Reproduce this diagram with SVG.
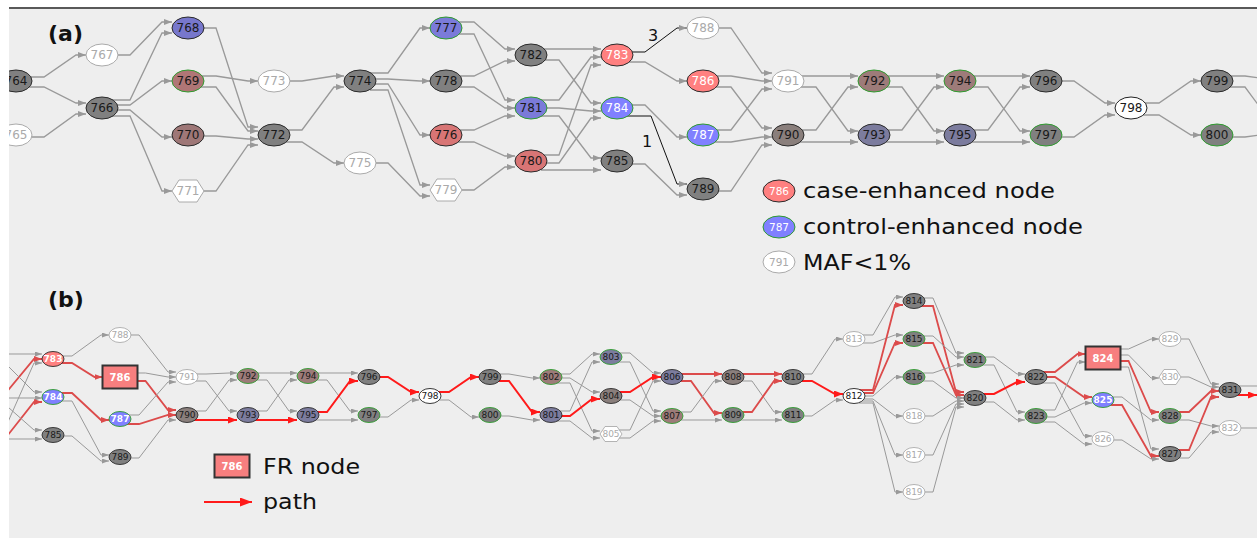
<svg xmlns="http://www.w3.org/2000/svg" width="1257" height="538" viewBox="0 0 1257 538">
<defs>
<clipPath id="clip"><rect x="9" y="9" width="1248" height="529"/></clipPath>
<marker id="ma" markerUnits="userSpaceOnUse" markerWidth="8" markerHeight="6" refX="8" refY="3" orient="auto"><path d="M0 0 L8 3 L0 6z" fill="#999"/></marker>
<marker id="mb" markerUnits="userSpaceOnUse" markerWidth="7" markerHeight="5" refX="7" refY="2.5" orient="auto"><path d="M0 0 L7 2.5 L0 5z" fill="#999"/></marker>
<marker id="mr" markerUnits="userSpaceOnUse" markerWidth="8" markerHeight="6" refX="8" refY="3" orient="auto"><path d="M0 0 L8 3 L0 6z" fill="#dc4b4b"/></marker>
<marker id="mR" markerUnits="userSpaceOnUse" markerWidth="9" markerHeight="7" refX="9" refY="3.5" orient="auto"><path d="M0 0 L9 3.5 L0 7z" fill="#ff1a1a"/></marker>
<marker id="mL" markerUnits="userSpaceOnUse" markerWidth="12" markerHeight="9" refX="12" refY="4.5" orient="auto"><path d="M0 0 L12 4.5 L0 9z" fill="#ff1a1a"/></marker>
</defs>
<style>
text{font-family:"DejaVu Sans","Liberation Sans",sans-serif}
.ea path{fill:none;stroke:#999;stroke-width:1.3;marker-end:url(#ma)}
.ea .k{stroke:#111;stroke-width:1}
.ea .nm,.eb .nm{marker-end:none}
.eb path{fill:none;stroke:#999;stroke-width:1;marker-end:url(#mb)}
.eb .r{stroke:#dc4b4b;stroke-width:1.8;marker-end:url(#mr)}
.eb .R{stroke:#ff1a1a;stroke-width:2;marker-end:url(#mR)}
.na text{font-size:12px;text-anchor:middle;fill:#1a1a1a}
.nb text{font-size:9px;text-anchor:middle;fill:#1a1a1a}
.na ellipse,.na polygon{stroke-width:1}
.nb ellipse,.nb polygon{stroke-width:0.9}
.g{fill:#808080;stroke:#2a2a2a}
.gg{fill:#808080;stroke:#2e9b2e}
.w{fill:#fff;stroke:#aaa}
.wk{fill:#fff;stroke:#222}
.bd{fill:#7777cc;stroke:#2a2a2a}
.bdg{fill:#7b7bd9;stroke:#2e9b2e}
.bb{fill:#8080ff;stroke:#2e9b2e}
.rd{fill:#d87575;stroke:#2a2a2a}
.rb{fill:#ff8080;stroke:#2a2a2a}
.mr{fill:#9e7777;stroke:#2a2a2a}
.mrg{fill:#b07676;stroke:#2e9b2e}
.bn{fill:#8a7f7c;stroke:#2a2a2a}
.bng{fill:#9d7b79;stroke:#2e9b2e}
.sl{fill:#7c7c9e;stroke:#2a2a2a}
.slg{fill:#7c7c9e;stroke:#2e9b2e}
.fr{fill:#f77f7f;stroke:#333;stroke-width:2}
.na text.tw,.nb text.tw{fill:#fff}
.na text.tg,.nb text.tg{fill:#aaa}
.nb text.bo{font-weight:bold}
.lg{font-size:22px;fill:#111}
.pl{font-size:22px;font-weight:bold;fill:#111}
.el{font-size:16px;fill:#111;text-anchor:middle}
</style>
<rect x="0" y="0" width="1257" height="538" fill="#fff"/>
<rect x="9" y="9" width="1248" height="529" fill="#eeeeee"/>
<line x1="9" y1="8" x2="1257" y2="8" stroke="#222" stroke-width="1.5"/>
<g clip-path="url(#clip)">
<g id="edges-a" class="ea">
<path d="M26 77 H44 L76 55 H86"/>
<path d="M26 87 H44 L76 103 H86"/>
<path d="M26 137 H44 L76 114 H86"/>
<path d="M112 55 H130 L162 22 H172"/>
<path d="M112 100 H130 L162 33 H172"/>
<path d="M112 105 H130 L162 81 H172"/>
<path d="M112 110 H130 L162 137 H172"/>
<path d="M112 116 H130 L162 191 H172"/>
<path d="M198 28 H216 L248 127 H258"/>
<path d="M198 76 H216 L248 81 H258"/>
<path d="M198 87 H216 L248 131 H258"/>
<path d="M198 136 H216 L248 139 H258"/>
<path d="M198 191 H216 L248 145 H258"/>
<path d="M284 81 H302 L334 76 H344"/>
<path d="M284 130 H302 L334 87 H344"/>
<path d="M284 142 H302 L334 163 H344"/>
<path d="M370 73 H388 L420 28 H430"/>
<path d="M370 79 H388 L420 81 H430"/>
<path d="M370 84 H388 L420 135 H430"/>
<path d="M370 90 H388 L420 185 H430"/>
<path d="M370 163 H388 L420 196 H430"/>
<path d="M456 22 H474 L505 49 H515"/>
<path d="M456 34 H474 L505 100 H515"/>
<path d="M456 76 H474 L505 61 H515"/>
<path d="M456 87 H474 L505 108 H515"/>
<path d="M456 130 H474 L505 116 H515"/>
<path d="M456 142 H474 L505 156 H515"/>
<path d="M456 190 H474 L505 167 H515"/>
<path d="M541 49 H559 L591 49 H601"/>
<path d="M541 60 H559 L591 103 H601"/>
<path d="M541 100 H559 L591 57 H601"/>
<path d="M541 108 H559 L591 111 H601"/>
<path d="M541 116 H559 L591 158 H601"/>
<path d="M541 155 H559 L591 65 H601"/>
<path d="M541 163 H559 L591 118 H601"/>
<path d="M541 170 H559 L591 170 H601"/>
<path class="k" d="M627 52 H645 L677 28 H687"/>
<path d="M627 62 H645 L677 81 H687"/>
<path d="M627 105 H645 L677 137 H687"/>
<path class="k" d="M627 116 H651 L677 184 H687"/>
<path d="M627 164 H645 L677 195 H687"/>
<path d="M713 28 H731 L762 73 H772"/>
<path d="M713 76 H731 L762 81 H772"/>
<path d="M713 87 H731 L762 128 H772"/>
<path d="M713 130 H731 L762 89 H772"/>
<path d="M713 142 H731 L762 137 H772"/>
<path d="M713 191 H731 L762 145 H772"/>
<path d="M798 76 H816 L848 76 H858"/>
<path d="M798 87 H816 L848 131 H858"/>
<path d="M798 130 H816 L848 87 H858"/>
<path d="M798 142 H816 L848 142 H858"/>
<path d="M884 76 H902 L934 76 H944"/>
<path d="M884 87 H902 L934 131 H944"/>
<path d="M884 130 H902 L934 87 H944"/>
<path d="M884 142 H902 L934 142 H944"/>
<path d="M970 76 H988 L1020 76 H1030"/>
<path d="M970 87 H988 L1020 131 H1030"/>
<path d="M970 130 H988 L1020 87 H1030"/>
<path d="M970 142 H988 L1020 142 H1030"/>
<path d="M1056 81 H1074 L1105 103 H1115"/>
<path d="M1056 137 H1074 L1105 115 H1115"/>
<path d="M1141 103 H1159 L1191 81 H1201"/>
<path d="M1141 115 H1159 L1191 135 H1201"/>
<path class="nm" d="M1227 76 H1245 L1260 78"/>
<path class="nm" d="M1227 87 H1245 L1262 110"/>
<path class="nm" d="M1227 137 H1245 L1260 135"/>
</g>
<g id="edge-labels-a">
<text class="el" x="653" y="41">3</text>
<text class="el" x="647" y="147">1</text>
</g>
<g id="edges-b" class="eb">
<path d="M0 354 H42"/>
<path class="r" d="M0 400 L34 359 H42"/>
<path d="M0 440 L34 363 H42"/>
<path d="M0 358 L34 392 H42"/>
<path d="M0 398 H42"/>
<path class="r" d="M0 445 L34 402 H42"/>
<path d="M0 400 L34 430 H42"/>
<path d="M0 439 H42"/>
<path d="M58 356 H72 L101 335 H109"/>
<path class="r" d="M58 363 H72 L94.5 377 H102.5"/>
<path class="r" d="M58 393 H72 L101 420 H109"/>
<path d="M58 401 H72 L101 455 H109"/>
<path d="M58 436 H72 L101 461 H109"/>
<path d="M125 335 H139 L168 372 H176"/>
<path d="M125 373 H145.5 L168 377 H176"/>
<path class="r" d="M125 381 H145.5 L168 410 H176"/>
<path d="M125 415 H139 L168 382 H176"/>
<path class="r" d="M125 424 H139 L168 415 H176"/>
<path d="M125 458 H139 L168 420 H176"/>
<path d="M192 374 H206 L229 373 H237"/>
<path d="M192 381 H206 L229 411 H237"/>
<path d="M192 411 H206 L229 380 H237"/>
<path class="R" d="M192 420 H206 L229 420 H237"/>
<path d="M253 373 H267 L289 373 H297"/>
<path d="M253 380 H267 L289 411 H297"/>
<path d="M253 411 H267 L289 380 H297"/>
<path class="R" d="M253 420 H267 L289 420 H297"/>
<path d="M313 373 H327 L350 373 H358"/>
<path d="M313 380 H327 L350 411 H358"/>
<path class="R" d="M313 412 H327 L350 381 H358"/>
<path d="M313 420 H327 L350 420 H358"/>
<path class="R" d="M374 377 H388 L411 392 H419"/>
<path d="M374 417 H388 L411 400 H419"/>
<path class="R" d="M435 392 H449 L471 377 H479"/>
<path d="M435 400 H449 L471 417 H479"/>
<path d="M495 374 H509 L532 378 H540"/>
<path class="R" d="M495 381 H509 L532 412 H540"/>
<path d="M495 416 H509 L532 420 H540"/>
<path d="M556 374 H570 L592 354 H600"/>
<path d="M556 378 H570 L592 392 H600"/>
<path d="M556 383 H570 L592 431 H600"/>
<path d="M556 411 H570 L592 362 H600"/>
<path class="R" d="M556 416 H570 L592 399 H600"/>
<path d="M556 421 H570 L592 438 H600"/>
<path d="M616 353 H630 L653 373 H661"/>
<path d="M616 362 H630 L653 411 H661"/>
<path class="R" d="M616 392 H630 L653 377 H661"/>
<path d="M616 400 H630 L653 416 H661"/>
<path d="M616 430 H630 L653 381 H661"/>
<path d="M616 438 H630 L653 421 H661"/>
<path class="r" d="M677 374 H691 L714 374 H722"/>
<path class="r" d="M677 381 H691 L714 413 H722"/>
<path d="M677 412 H691 L714 381 H722"/>
<path d="M677 420 H691 L714 420 H722"/>
<path class="r" d="M738 374 H752 L774 374 H782"/>
<path d="M738 381 H752 L774 412 H782"/>
<path class="r" d="M738 412 H752 L774 381 H782"/>
<path d="M738 420 H752 L774 420 H782"/>
<path d="M798 374 H812 L835 339 H843"/>
<path class="R" d="M798 381 H812 L835 394 H843"/>
<path d="M798 416 H812 L835 400 H843"/>
<path d="M859 335 H873 L895 297 H903"/>
<path d="M859 343 H873 L895 335 H903"/>
<path class="r" d="M859 390 H873 L895 305 H903"/>
<path class="r" d="M859 393 H873 L895 343 H903"/>
<path d="M859 396 H873 L895 377 H903"/>
<path d="M859 399 H873 L895 416 H903"/>
<path d="M859 401 H873 L895 455 H903"/>
<path d="M859 403 H873 L895 492 H903"/>
<path d="M919 298 H933 L956 353 H964"/>
<path class="r" d="M919 306 H933 L956 392 H964"/>
<path d="M919 336 H933 L956 357 H964"/>
<path class="r" d="M919 343 H933 L956 395 H964"/>
<path d="M919 373 H933 L956 365 H964"/>
<path d="M919 381 H933 L956 398 H964"/>
<path d="M919 416 H933 L956 401 H964"/>
<path d="M919 455 H933 L956 404 H964"/>
<path d="M919 492 H933 L956 407 H964"/>
<path d="M980 357 H994 L1017 374 H1025"/>
<path d="M980 365 H994 L1017 412 H1025"/>
<path class="R" d="M980 394 H994 L1017 382 H1025"/>
<path d="M980 402 H994 L1017 420 H1025"/>
<path class="r" d="M1041 372 H1055 L1077.5 354 H1085.5"/>
<path class="r" d="M1041 377 H1055 L1084 397 H1092"/>
<path d="M1041 383 H1055 L1084 436 H1092"/>
<path d="M1041 410 H1055 L1077.5 362 H1085.5"/>
<path d="M1041 417 H1055 L1084 403 H1092"/>
<path d="M1041 422 H1055 L1084 444 H1092"/>
<path d="M1108 349 H1128.5 L1151 339 H1159"/>
<path d="M1108 355 H1128.5 L1151 378 H1159"/>
<path class="r" d="M1108 361 H1128.5 L1151 412 H1159"/>
<path d="M1108 367 H1128.5 L1151 449 H1159"/>
<path d="M1108 397 H1122 L1151 420 H1159"/>
<path class="r" d="M1108 405 H1122 L1151 456 H1159"/>
<path d="M1108 440 H1122 L1151 459 H1159"/>
<path d="M1175 339 H1189 L1211 384 H1219"/>
<path d="M1175 377 H1189 L1211 387 H1219"/>
<path class="r" d="M1175 412 H1189 L1211 391 H1219"/>
<path d="M1175 420 H1189 L1211 426 H1219"/>
<path class="r" d="M1175 450 H1189 L1211 397 H1219"/>
<path d="M1175 458 H1189 L1211 432 H1219"/>
<path class="nm" d="M1235 386 H1257"/>
<path class="R nm" d="M1235 395 H1257"/>
<path class="nm" d="M1235 428 H1257"/>
</g>
<g id="nodes-a" class="na">
<g id="a764" transform="translate(16,81)"><ellipse class="g" rx="16" ry="11"/><text y="4">764</text></g>
<g id="a765" transform="translate(16,135)"><ellipse class="w" rx="16" ry="11"/><text class="tg" y="4">765</text></g>
<g id="a767" transform="translate(102,55)"><ellipse class="w" rx="16" ry="11"/><text class="tg" y="4">767</text></g>
<g id="a766" transform="translate(102,108)"><ellipse class="g" rx="16" ry="11"/><text y="4">766</text></g>
<g id="a768" transform="translate(188,28)"><ellipse class="bd" rx="16" ry="11"/><text y="4">768</text></g>
<g id="a769" transform="translate(188,81)"><ellipse class="mrg" rx="16" ry="11"/><text y="4">769</text></g>
<g id="a770" transform="translate(188,135)"><ellipse class="mr" rx="16" ry="11"/><text y="4">770</text></g>
<g id="a771" transform="translate(188,191)"><polygon class="w" points="-16,0 -9,-11 9,-11 16,0 9,11 -9,11"/><text class="tg" y="4">771</text></g>
<g id="a773" transform="translate(274,81)"><ellipse class="w" rx="16" ry="11"/><text class="tg" y="4">773</text></g>
<g id="a772" transform="translate(274,135)"><ellipse class="g" rx="16" ry="11"/><text y="4">772</text></g>
<g id="a774" transform="translate(360,81)"><ellipse class="g" rx="16" ry="11"/><text y="4">774</text></g>
<g id="a775" transform="translate(360,163)"><ellipse class="w" rx="16" ry="11"/><text class="tg" y="4">775</text></g>
<g id="a777" transform="translate(446,28)"><ellipse class="bdg" rx="16" ry="11"/><text y="4">777</text></g>
<g id="a778" transform="translate(446,81)"><ellipse class="g" rx="16" ry="11"/><text y="4">778</text></g>
<g id="a776" transform="translate(446,135)"><ellipse class="rd" rx="16" ry="11"/><text y="4">776</text></g>
<g id="a779" transform="translate(446,190)"><polygon class="w" points="-16,0 -9,-11 9,-11 16,0 9,11 -9,11"/><text class="tg" y="4">779</text></g>
<g id="a782" transform="translate(531,55)"><ellipse class="g" rx="16" ry="11"/><text y="4">782</text></g>
<g id="a781" transform="translate(531,108)"><ellipse class="bdg" rx="16" ry="11"/><text y="4">781</text></g>
<g id="a780" transform="translate(531,161)"><ellipse class="rd" rx="16" ry="11"/><text y="4">780</text></g>
<g id="a783" transform="translate(617,55)"><ellipse class="rb" rx="16" ry="11"/><text class="tw" y="4">783</text></g>
<g id="a784" transform="translate(617,108)"><ellipse class="bb" rx="16" ry="11"/><text class="tw" y="4">784</text></g>
<g id="a785" transform="translate(617,161)"><ellipse class="g" rx="16" ry="11"/><text y="4">785</text></g>
<g id="a788" transform="translate(703,28)"><ellipse class="w" rx="16" ry="11"/><text class="tg" y="4">788</text></g>
<g id="a786" transform="translate(703,81)"><ellipse class="rb" rx="16" ry="11"/><text class="tw" y="4">786</text></g>
<g id="a787" transform="translate(703,135)"><ellipse class="bb" rx="16" ry="11"/><text class="tw" y="4">787</text></g>
<g id="a789" transform="translate(703,189)"><ellipse class="g" rx="16" ry="11"/><text y="4">789</text></g>
<g id="a791" transform="translate(788,81)"><ellipse class="w" rx="16" ry="11"/><text class="tg" y="4">791</text></g>
<g id="a790" transform="translate(788,135)"><ellipse class="bn" rx="16" ry="11"/><text y="4">790</text></g>
<g id="a792" transform="translate(874,81)"><ellipse class="bng" rx="16" ry="11"/><text y="4">792</text></g>
<g id="a793" transform="translate(874,135)"><ellipse class="sl" rx="16" ry="11"/><text y="4">793</text></g>
<g id="a794" transform="translate(960,81)"><ellipse class="bng" rx="16" ry="11"/><text y="4">794</text></g>
<g id="a795" transform="translate(960,135)"><ellipse class="sl" rx="16" ry="11"/><text y="4">795</text></g>
<g id="a796" transform="translate(1046,81)"><ellipse class="g" rx="16" ry="11"/><text y="4">796</text></g>
<g id="a797" transform="translate(1046,135)"><ellipse class="gg" rx="16" ry="11"/><text y="4">797</text></g>
<g id="a798" transform="translate(1131,108)"><ellipse class="wk" rx="16" ry="11"/><text y="4">798</text></g>
<g id="a799" transform="translate(1217,81)"><ellipse class="g" rx="16" ry="11"/><text y="4">799</text></g>
<g id="a800" transform="translate(1217,135)"><ellipse class="gg" rx="16" ry="11"/><text y="4">800</text></g>
</g>
<g id="legend-a">
<g class="na" transform="translate(779,191)"><ellipse class="rb" rx="16" ry="11"/><text class="tw" y="4" style="font-size:10.5px">786</text></g>
<g class="na" transform="translate(779,227)"><ellipse class="bb" rx="16" ry="11"/><text class="tw" y="4" style="font-size:10.5px">787</text></g>
<g class="na" transform="translate(779,262)"><ellipse class="w" rx="16" ry="11"/><text class="tg" y="4" style="font-size:10.5px">791</text></g>
<text class="lg" x="803" y="198" textLength="252" lengthAdjust="spacingAndGlyphs">case-enhanced node</text>
<text class="lg" x="803" y="234" textLength="280" lengthAdjust="spacingAndGlyphs">control-enhanced node</text>
<text class="lg" x="803" y="270" textLength="108" lengthAdjust="spacingAndGlyphs">MAF&lt;1%</text>
</g>
<g id="nodes-b" class="nb">
<g id="b783" transform="translate(53,359)"><ellipse class="rb" rx="11" ry="7.5"/><text class="tw bo" y="3.2">783</text></g>
<g id="b784" transform="translate(53,397)"><ellipse class="bb" rx="11" ry="7.5"/><text class="tw bo" y="3.2">784</text></g>
<g id="b785" transform="translate(53,435)"><ellipse class="g" rx="11" ry="7.5"/><text y="3.2">785</text></g>
<g id="b788" transform="translate(120,335)"><ellipse class="w" rx="11" ry="7.5"/><text class="tg" y="3.2">788</text></g>
<g id="b786" transform="translate(120,377)"><rect class="fr" x="-17.5" y="-11.5" width="35" height="23"/><text class="tw bo" y="3.5" style="font-size:10px">786</text></g>
<g id="b787" transform="translate(120,419)"><ellipse class="bb" rx="11" ry="7.5"/><text class="tw bo" y="3.2">787</text></g>
<g id="b789" transform="translate(120,457)"><ellipse class="g" rx="11" ry="7.5"/><text y="3.2">789</text></g>
<g id="b791" transform="translate(187,377)"><ellipse class="w" rx="11" ry="7.5"/><text class="tg" y="3.2">791</text></g>
<g id="b790" transform="translate(187,415)"><ellipse class="bn" rx="11" ry="7.5"/><text y="3.2">790</text></g>
<g id="b792" transform="translate(248,376)"><ellipse class="bng" rx="11" ry="7.5"/><text y="3.2">792</text></g>
<g id="b793" transform="translate(248,415)"><ellipse class="sl" rx="11" ry="7.5"/><text y="3.2">793</text></g>
<g id="b794" transform="translate(308,376)"><ellipse class="bng" rx="11" ry="7.5"/><text y="3.2">794</text></g>
<g id="b795" transform="translate(308,415)"><ellipse class="sl" rx="11" ry="7.5"/><text y="3.2">795</text></g>
<g id="b796" transform="translate(369,377)"><ellipse class="g" rx="11" ry="7.5"/><text y="3.2">796</text></g>
<g id="b797" transform="translate(369,415)"><ellipse class="gg" rx="11" ry="7.5"/><text y="3.2">797</text></g>
<g id="b798" transform="translate(430,396)"><ellipse class="wk" rx="11" ry="7.5"/><text y="3.2">798</text></g>
<g id="b799" transform="translate(490,377)"><ellipse class="g" rx="11" ry="7.5"/><text y="3.2">799</text></g>
<g id="b800" transform="translate(490,415)"><ellipse class="gg" rx="11" ry="7.5"/><text y="3.2">800</text></g>
<g id="b802" transform="translate(551,377)"><ellipse class="bng" rx="11" ry="7.5"/><text y="3.2">802</text></g>
<g id="b801" transform="translate(551,415)"><ellipse class="sl" rx="11" ry="7.5"/><text y="3.2">801</text></g>
<g id="b803" transform="translate(611,357)"><ellipse class="slg" rx="11" ry="7.5"/><text y="3.2">803</text></g>
<g id="b804" transform="translate(611,396)"><ellipse class="bn" rx="11" ry="7.5"/><text y="3.2">804</text></g>
<g id="b805" transform="translate(611,434)"><polygon class="w" points="-11,0 -6,-7.5 6,-7.5 11,0 6,7.5 -6,7.5"/><text class="tg" y="3.2">805</text></g>
<g id="b806" transform="translate(672,377)"><ellipse class="sl" rx="11" ry="7.5"/><text y="3.2">806</text></g>
<g id="b807" transform="translate(672,416)"><ellipse class="bng" rx="11" ry="7.5"/><text y="3.2">807</text></g>
<g id="b808" transform="translate(733,377)"><ellipse class="bn" rx="11" ry="7.5"/><text y="3.2">808</text></g>
<g id="b809" transform="translate(733,415)"><ellipse class="gg" rx="11" ry="7.5"/><text y="3.2">809</text></g>
<g id="b810" transform="translate(793,377)"><ellipse class="g" rx="11" ry="7.5"/><text y="3.2">810</text></g>
<g id="b811" transform="translate(793,415)"><ellipse class="gg" rx="11" ry="7.5"/><text y="3.2">811</text></g>
<g id="b813" transform="translate(854,339)"><ellipse class="w" rx="11" ry="7.5"/><text class="tg" y="3.2">813</text></g>
<g id="b812" transform="translate(854,396)"><ellipse class="wk" rx="11" ry="7.5"/><text y="3.2">812</text></g>
<g id="b814" transform="translate(914,301)"><ellipse class="g" rx="11" ry="7.5"/><text y="3.2">814</text></g>
<g id="b815" transform="translate(914,339)"><ellipse class="gg" rx="11" ry="7.5"/><text y="3.2">815</text></g>
<g id="b816" transform="translate(914,377)"><ellipse class="gg" rx="11" ry="7.5"/><text y="3.2">816</text></g>
<g id="b818" transform="translate(914,416)"><ellipse class="w" rx="11" ry="7.5"/><text class="tg" y="3.2">818</text></g>
<g id="b817" transform="translate(914,455)"><ellipse class="w" rx="11" ry="7.5"/><text class="tg" y="3.2">817</text></g>
<g id="b819" transform="translate(914,492)"><ellipse class="w" rx="11" ry="7.5"/><text class="tg" y="3.2">819</text></g>
<g id="b821" transform="translate(975,360)"><ellipse class="gg" rx="11" ry="7.5"/><text y="3.2">821</text></g>
<g id="b820" transform="translate(975,398)"><ellipse class="g" rx="11" ry="7.5"/><text y="3.2">820</text></g>
<g id="b822" transform="translate(1036,377)"><ellipse class="g" rx="11" ry="7.5"/><text y="3.2">822</text></g>
<g id="b823" transform="translate(1036,416)"><ellipse class="gg" rx="11" ry="7.5"/><text y="3.2">823</text></g>
<g id="b824" transform="translate(1103,358)"><rect class="fr" x="-17.5" y="-11.5" width="35" height="23"/><text class="tw bo" y="3.5" style="font-size:10px">824</text></g>
<g id="b825" transform="translate(1103,400)"><ellipse class="bb" rx="11" ry="7.5"/><text class="tw bo" y="3.2">825</text></g>
<g id="b826" transform="translate(1103,439)"><ellipse class="w" rx="11" ry="7.5"/><text class="tg" y="3.2">826</text></g>
<g id="b829" transform="translate(1170,339)"><ellipse class="w" rx="11" ry="7.5"/><text class="tg" y="3.2">829</text></g>
<g id="b830" transform="translate(1170,377)"><polygon class="w" points="-11,0 -6,-7.5 6,-7.5 11,0 6,7.5 -6,7.5"/><text class="tg" y="3.2">830</text></g>
<g id="b828" transform="translate(1170,416)"><ellipse class="gg" rx="11" ry="7.5"/><text y="3.2">828</text></g>
<g id="b827" transform="translate(1170,454)"><ellipse class="g" rx="11" ry="7.5"/><text y="3.2">827</text></g>
<g id="b831" transform="translate(1230,390)"><ellipse class="g" rx="11" ry="7.5"/><text y="3.2">831</text></g>
<g id="b832" transform="translate(1230,428)"><ellipse class="w" rx="11" ry="7.5"/><text class="tg" y="3.2">832</text></g>
</g>
<g id="legend-b">
<g class="nb" transform="translate(232,466)"><rect class="fr" x="-17.5" y="-11.5" width="35" height="23"/><text class="tw bo" y="3.5" style="font-size:10px">786</text></g>
<text class="lg" x="263" y="474" textLength="97" lengthAdjust="spacingAndGlyphs">FR node</text>
<path d="M204 502 H252" fill="none" stroke="#ff1a1a" stroke-width="2" marker-end="url(#mL)"/>
<text class="lg" x="263" y="509" textLength="54" lengthAdjust="spacingAndGlyphs">path</text>
</g>
<g id="panel-labels">
<text class="pl" x="48" y="41">(a)</text>
<text class="pl" x="48" y="307">(b)</text>
</g>
</g>
</svg>
